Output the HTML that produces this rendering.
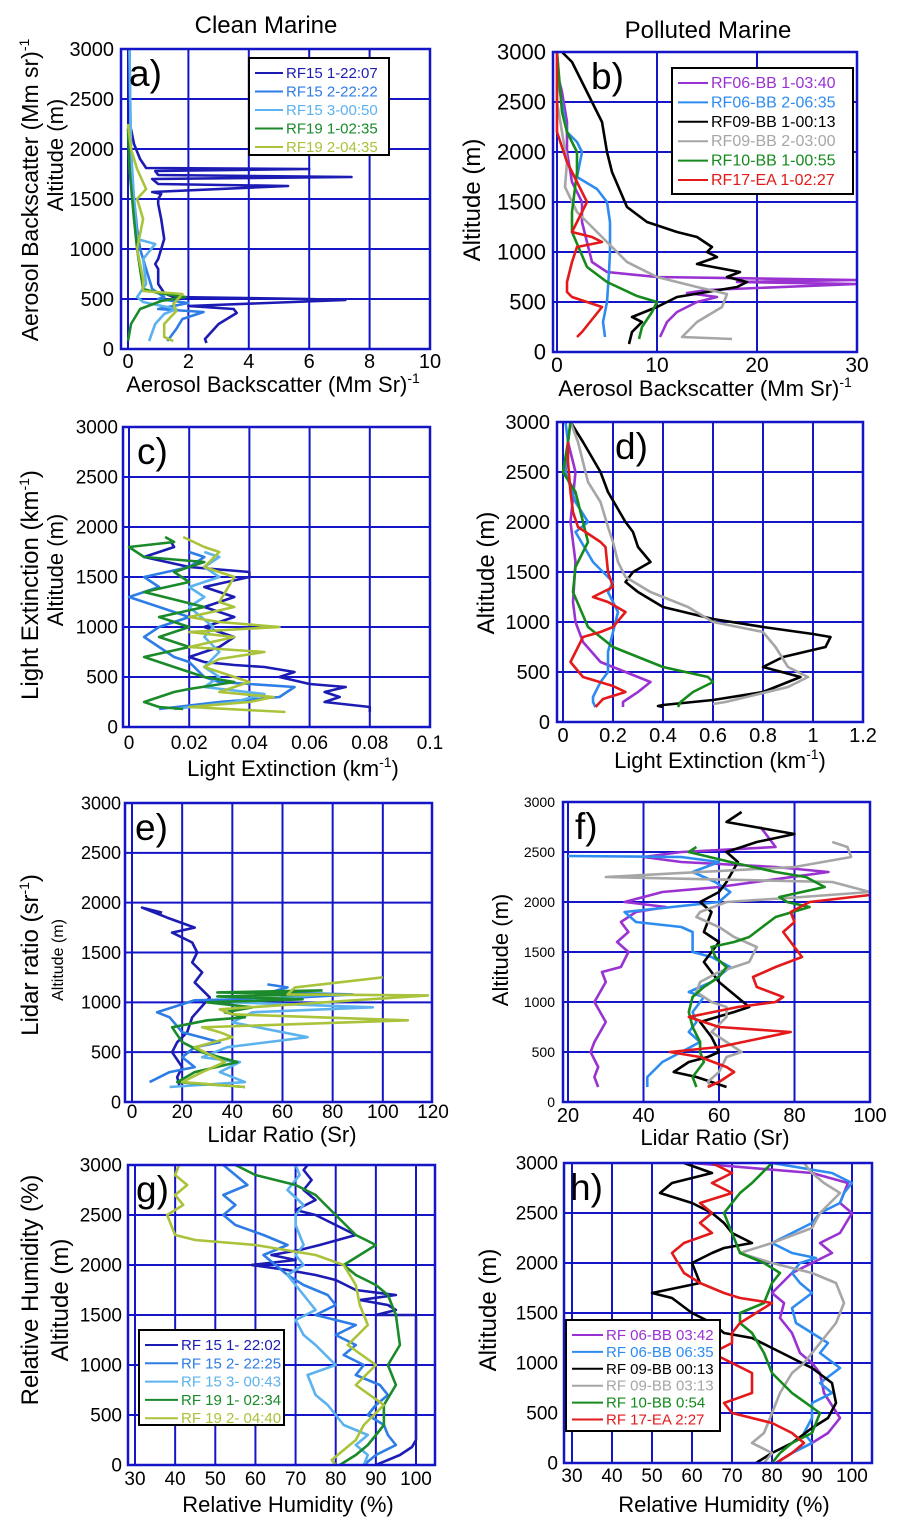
<!DOCTYPE html>
<html><head><meta charset="utf-8"><style>
html,body{margin:0;padding:0;background:#fff}
svg{display:block;font-family:"Liberation Sans",sans-serif}
</style></head><body>
<svg id="fig" width="901" height="1530" viewBox="0 0 901 1530" xmlns="http://www.w3.org/2000/svg">
<text x="266" y="33" font-size="24" text-anchor="middle">Clean Marine</text>
<text x="708" y="38" font-size="24" text-anchor="middle">Polluted Marine</text>
</svg>
<script>
// ---------- Data ----------
// Panel a: aerosol backscatter (Mm sr)^-1, clean marine
const a1x=[2.6,2.55,3.0,3.6,3.5,2.0,7.2,6.0,1.5,1.2,1.0,1.0,0.9,1.0,1.2,1.1,1.0,1.0,1.1,0.8,5.3,1.0,0.8,7.4,1.0,0.9,6.0,0.6,0.4,0.2,0.1];
const a1y=[60,100,250,360,400,430,490,500,520,560,650,800,850,900,1100,1300,1450,1500,1550,1570,1630,1650,1700,1720,1740,1780,1800,1810,1900,2050,2200];
const a2x=[1.3,1.6,1.8,2.5,1.0,2.0,1.0,1.2,0.8,0.6,0.4,0.3,0.1,0.05];
const a2y=[80,200,300,370,400,460,500,520,600,800,1000,1200,1800,3000];
const a3x=[0.7,0.9,1.2,1.6,0.5,0.3,0.6,0.5,0.9,0.3,0.2,0.1,0.05];
const a3y=[80,250,350,400,470,520,650,900,1050,1100,1500,2000,3000];
const a4x=[0.0,0.1,0.4,1.1,1.9,1.0,0.5,0.4,0.3,0.2,0.05,0.0];
const a4y=[80,250,400,480,520,560,600,800,1000,1300,1800,2200];
const a5x=[1.5,1.2,1.2,1.6,1.5,1.8,0.5,0.5,0.3,0.5,0.3,0.6,0.3,0.1,0.0];
const a5y=[80,120,250,380,450,550,580,700,1000,1300,1500,1600,1800,2000,2250];
// Panel b: aerosol backscatter, polluted marine
const b1x=[10.3,11,12,14,16,13,15,30,18,30,10,5,3.5,3,2.5,2.5,1.5,1,1,0.5,0];
const b1y=[150,300,400,500,550,590,620,680,700,720,750,800,900,1100,1300,1500,1700,2000,2300,2600,2800];
const b2x=[4.8,4.6,5,5.2,5.3,5.3,5,4,2,2.5,2,1,0.3,0];
const b2y=[150,300,500,800,1000,1300,1500,1630,1750,2000,2100,2200,2600,3000];
const b3x=[7.2,7.5,8.5,7.5,10,12,15,18,19,17,18.3,14,16,15,15.5,14,12,9,7,5.5,5,4.5,3,1.5,0.5];
const b3y=[80,200,300,350,450,550,600,650,700,750,800,880,950,1000,1050,1150,1200,1300,1450,1800,2000,2300,2600,2900,3000];
const b4x=[17.5,12.5,13,14,16.5,17,14,10,7,5,3,2,0.8,1,0.5,0,0];
const b4y=[130,150,200,300,450,580,650,750,900,1100,1300,1400,1650,1900,2200,2500,3000];
const b5x=[8.2,8.5,9.5,10,8,5,3,1.5,1.5,2,2,1,0.5,0];
const b5y=[130,250,400,500,560,700,850,1200,1400,1800,2000,2200,2400,3000];
const b6x=[2.0,2.5,4.5,3,1.5,1,1,1.5,2,4.5,3.5,1.5,2,3,2,1,0,0];
const b6y=[150,200,450,500,550,600,700,900,1050,1100,1150,1200,1300,1500,1700,1900,2200,3000];
// Panel c: light extinction (km^-1), clean marine
const c1x=[0.080,0.080,0.065,0.070,0.065,0.072,0.060,0.050,0.055,0.045,0.035,0.025,0.020,0.030,0.035,0.025,0.035,0.025,0.035,0.025,0.040,0.040,0.020,0.005,0.010,0.015,0.014];
const c1y=[150,200,250,300,350,400,430,500,550,600,620,650,700,800,900,1000,1100,1200,1300,1400,1500,1550,1600,1700,1750,1800,1850];
const c2x=[0.010,0.030,0.050,0.055,0.040,0.030,0.025,0.020,0.015,0.010,0.005,0.010,0.020,0.010,0.000,0.010,0.005,0.020,0.025,0.020];
const c2y=[180,250,300,400,430,450,500,650,700,800,900,1000,1100,1200,1300,1400,1500,1600,1700,1750];
const c3x=[0.015,0.035,0.045,0.025,0.030,0.025,0.030,0.025,0.028,0.020,0.025,0.020,0.030,0.025,0.030,0.025];
const c3y=[180,250,330,400,500,600,750,900,1000,1200,1300,1400,1500,1600,1700,1750];
const c4x=[0.018,0.010,0.005,0.015,0.020,0.035,0.025,0.015,0.005,0.020,0.010,0.020,0.010,0.025,0.005,0.020,0.015,0.025,0.005,0.000,0.015,0.012];
const c4y=[180,200,250,350,380,450,500,600,700,800,900,1000,1100,1200,1350,1450,1550,1650,1700,1800,1850,1900];
const c5x=[0.052,0.020,0.040,0.048,0.030,0.040,0.025,0.030,0.045,0.020,0.035,0.020,0.050,0.030,0.020,0.035,0.030,0.035,0.025,0.030,0.025,0.018];
const c5y=[150,200,250,300,350,450,600,680,750,800,900,950,1000,1050,1100,1200,1250,1500,1600,1750,1800,1900];
// Panel d: light extinction, polluted marine
const d1x=[0.24,0.24,0.30,0.35,0.30,0.15,0.08,0.05,0.04,0.05,0.03,0.05,0.02,0.03];
const d1y=[150,200,300,400,450,600,800,1000,1200,1600,2000,2500,2800,3000];
const d2x=[0.13,0.12,0.12,0.15,0.18,0.18,0.22,0.18,0.20,0.12,0.05,0.10,0.05,0.01,0.02,0.01];
const d2y=[150,200,250,400,500,700,1100,1300,1400,1600,1900,2000,2200,2500,2800,3000];
const d3x=[0.40,0.38,0.40,0.60,0.80,0.95,0.80,0.88,1.05,1.07,1.0,0.80,0.60,0.40,0.30,0.25,0.28,0.35,0.30,0.28,0.25,0.18,0.15,0.08,0.03];
const d3y=[150,160,170,220,300,450,550,650,750,850,880,950,1030,1150,1300,1400,1500,1600,1750,1900,2000,2300,2500,2800,3000];
const d4x=[0.60,0.65,0.90,0.98,0.90,0.85,0.80,0.60,0.50,0.35,0.25,0.22,0.20,0.18,0.15,0.10,0.06,0.03];
const d4y=[180,200,350,450,550,750,900,1000,1150,1300,1450,1600,1800,1950,2200,2400,2800,3000];
const d5x=[0.46,0.47,0.52,0.60,0.58,0.40,0.20,0.10,0.04,0.05,0.10,0.08,0.05,0.00,0.02,0.03];
const d5y=[150,200,300,400,450,550,750,950,1300,1550,1800,2000,2300,2500,2800,3000];
const d6x=[0.13,0.16,0.25,0.20,0.08,0.03,0.05,0.08,0.15,0.20,0.25,0.18,0.12,0.20,0.18,0.17,0.15,0.06,0.04,0.03,0.02,0.02];
const d6y=[150,230,300,360,450,600,700,850,900,950,1100,1200,1250,1350,1500,1750,1800,1950,2100,2300,2600,2800];
// Panel e: lidar ratio (sr), clean marine
const e1x=[19,18,20,16,18,22,24,31,25,28,24,26,24,16,25,14,4,12];
const e1y=[150,250,350,500,600,700,850,1050,1200,1300,1400,1500,1600,1700,1750,1850,1950,1900];
const e2x=[7,15,25,20,25,35,20,15,10,25,60,88,55,62,54];
const e2y=[200,300,350,450,550,600,700,850,900,1020,1040,1080,1100,1150,1180];
const e3x=[15,45,35,43,28,38,70,40,48,96,40,62,75];
const e3y=[150,200,300,400,450,550,650,800,900,950,1000,1050,1080];
const e4x=[45,18,25,42,28,20,16,30,45,37,48,30,68,34,77,34,76];
const e4y=[150,200,300,400,500,600,750,820,850,900,950,1000,1030,1060,1080,1100,1120];
const e5x=[45,20,28,37,25,40,35,28,110,40,35,118,62,65,100];
const e5y=[150,200,300,400,550,650,700,750,820,880,930,1070,1080,1150,1250];
// Panel f: lidar ratio, polluted marine
const f1x=[28,27,28,26,27,30,27,30,29,34,36,33,36,34,38,46,35,45,60,89,75,50,40,50,75,73,71];
const f1y=[150,250,350,500,600,800,1000,1200,1300,1350,1500,1600,1700,1800,1900,1950,2000,2100,2150,2300,2350,2400,2450,2500,2550,2650,2750];
const f2x=[41,41,45,50,55,52,54,53,56,52,58,63,58,53,53,50,38,35,60,63,59,53,60,50,20];
const f2y=[150,250,400,500,600,700,800,900,1050,1100,1200,1350,1450,1500,1700,1750,1800,1900,2000,2100,2200,2300,2400,2450,2460];
const f3x=[62,58,54,48,52,57,60,58,55,64,68,60,56,58,60,56,58,55,60,62,65,62,70,80,62,66];
const f3y=[150,200,250,300,400,450,500,650,800,900,950,1200,1400,1500,1600,1700,1900,2000,2100,2200,2400,2500,2600,2680,2800,2900];
const f4x=[58,57,60,62,66,58,62,62,58,54,55,60,68,70,64,60,54,55,62,82,100,90,30,80,95,94,90];
const f4y=[150,200,300,450,500,700,850,950,1000,1100,1200,1300,1400,1550,1650,1750,1850,1900,2000,2050,2100,2200,2250,2350,2450,2550,2600];
const f5x=[54,53,56,55,55,53,52,53,56,60,62,59,58,64,68,75,84,78,76,88,83,75,63,52,54];
const f5y=[150,250,400,500,600,750,900,1050,1150,1250,1350,1450,1550,1600,1650,1850,1950,2000,2050,2150,2250,2300,2400,2500,2550];
const f6x=[57,60,64,62,55,47,60,79,60,52,65,75,77,70,69,75,82,79,77,80,79,84,100];
const f6y=[150,200,300,350,450,500,550,700,750,850,950,1000,1050,1150,1250,1350,1450,1600,1700,1800,1900,2000,2070];
// Panel g: relative humidity (%), clean marine
const g1x=[90,96,99,100,100,100,100,90,95,93,86,95,85,80,75,68,59,70,64,71,76,85,80,75,70,75,72,74,72,73];
const g1y=[0,100,180,250,600,1000,1500,1500,1550,1600,1650,1700,1750,1850,1900,1950,2000,2050,2100,2150,2200,2300,2400,2500,2550,2650,2750,2850,2950,3000];
const g2x=[87,90,95,93,92,88,90,93,91,85,87,82,85,80,85,75,80,78,72,68,65,62,68,62,55,52,55,52,58,55,52];
const g2y=[0,100,200,300,400,500,600,700,800,900,1000,1100,1200,1300,1400,1500,1600,1700,1800,1900,2000,2100,2200,2300,2400,2500,2600,2700,2800,2900,3000];
const g3x=[87,88,85,88,82,80,78,75,73,80,75,72,70,75,72,70,68,72,70,72,70,70,72,68,71,70];
const g3y=[0,100,200,300,400,500,600,700,900,1000,1200,1300,1450,1550,1700,1800,1900,2000,2100,2200,2400,2500,2600,2750,2900,3000];
const g4x=[81,85,88,90,92,92,95,93,96,95,93,90,85,82,90,85,80,75,70,60,55];
const g4y=[0,100,200,300,400,600,800,1000,1200,1500,1700,1800,1900,2000,2200,2300,2500,2700,2800,2900,3000];
const g5x=[80,79,82,85,87,92,85,90,83,88,86,85,82,75,60,45,40,38,42,40,43,40,41];
const g5y=[0,50,150,250,400,600,800,1000,1200,1400,1600,1800,2000,2100,2200,2250,2300,2500,2600,2700,2800,2900,3000];
// Panel h: relative humidity, polluted marine
const h1x=[81,85,90,94,97,93,92,90,87,85,82,83,80,85,90,95,92,97,100,97,99,90,60];
const h1y=[0,100,200,300,450,700,900,1000,1100,1300,1450,1600,1700,1900,2000,2100,2200,2300,2500,2600,2800,2900,3000];
const h2x=[81,85,90,88,90,90,95,92,97,92,94,90,86,85,90,87,85,87,91,85,80,85,90,92,97,98,100,95,80];
const h2y=[0,100,200,300,450,600,700,800,950,1100,1200,1300,1400,1550,1700,1800,1900,2000,2050,2100,2200,2300,2400,2500,2600,2700,2800,2900,3000];
const h3x=[76,80,85,90,94,96,95,90,85,80,75,68,65,60,55,50,62,60,65,68,75,70,68,65,60,52,55,65,58];
const h3y=[0,100,200,350,450,600,800,950,1050,1150,1250,1300,1400,1500,1650,1700,1800,2000,2100,2150,2200,2300,2400,2500,2600,2700,2800,2900,3000];
const h4x=[78,80,75,78,80,82,85,88,92,96,98,96,90,80,72,80,90,92,97,93,90,88];
const h4y=[0,100,200,300,500,700,900,1000,1200,1400,1600,1800,1900,2000,2100,2200,2350,2500,2700,2800,2900,3000];
const h5x=[80,82,85,90,92,85,80,78,75,72,72,78,80,82,78,72,70,68,72,75,80];
const h5y=[0,100,200,300,500,700,900,1100,1300,1400,1500,1600,1800,1900,2000,2100,2300,2500,2700,2800,3000];
const h6x=[81,85,88,85,80,70,68,75,75,70,65,70,70,72,80,72,68,62,58,55,58,65,62,65,62,70,65,70,65];
const h6y=[0,100,200,300,400,500,600,700,900,1000,1100,1200,1300,1400,1600,1650,1700,1800,1900,2100,2200,2300,2400,2500,2600,2700,2800,2900,3000];

// Tick label arrays
const altTicks=[0,500,1000,1500,2000,2500,3000];
const aTicks=[0,2,4,6,8,10];
const bTicks=[0,10,20,30];
const cTicks=[0,0.02,0.04,0.06,0.08,0.1];
const dTicks=[0,0.2,0.4,0.6,0.8,1,1.2];
const eTicks=[0,20,40,60,80,100,120];
const fTicks=[20,40,60,80,100];
const ghTicks=[30,40,50,60,70,80,90,100];

// Legend labels
const legA=["RF15 1-22:07","RF15 2-22:22","RF15 3-00:50","RF19 1-02:35","RF19 2-04:35"];
const legB=["RF06-BB 1-03:40","RF06-BB 2-06:35","RF09-BB 1-00:13","RF09-BB 2-03:00","RF10-BB 1-00:55","RF17-EA 1-02:27"];
const legG=["RF 15 1- 22:02","RF 15 2- 22:25","RF 15 3- 00:43","RF 19 1- 02:34","RF 19 2- 04:40"];
const legH=["RF 06-BB 03:42","RF 06-BB 06:35","RF 09-BB 00:13","RF 09-BB 03:13","RF 10-BB  0:54","RF 17-EA  2:27"];

const cleanCols=["#1c1cb4","#2e7de6","#5cb2ee","#1a8a2a","#a9c33a"];
const pollCols=["#9a32d2","#2e8cf0","#000000","#a6a6a6","#168a1c","#e3191b"];

const NS="http://www.w3.org/2000/svg";
const svg=document.getElementById('fig');
const GRID="#1515c8";
function mk(tag,at,parent){const e=document.createElementNS(NS,tag);for(const k in at)e.setAttribute(k,at[k]);(parent||svg).appendChild(e);return e;}
function fmt(v){return String(+v.toFixed(2));}

function panel(id,P){
  const g=mk('g',{});
  
  
  const X=v=>P.px0+(v-P.v0)*(P.px1-P.px0)/(P.v1-P.v0);
  const Y=a=>P.fy1-a*(P.fy1-P.fy0)/3000;
  P.ticks.forEach(t=>{const x=X(t); if(x>P.fx0+3&&x<P.fx1-3){const l=mk('line',{x1:x,x2:x,y1:P.fy0,y2:P.fy1,stroke:GRID,'stroke-width':2},g);
    
    }});
  altTicks.forEach(a=>{const y=Y(a); if(y>P.fy0+3&&y<P.fy1-3){const l=mk('line',{x1:P.fx0,x2:P.fx1,y1:y,y2:y,stroke:GRID,'stroke-width':2},g);
    
    }});
  P.series.forEach((s,i)=>{
    const d=s[0].map((v,j)=>(j?'L':'M')+X(v).toFixed(1)+' '+Y(s[1][j]).toFixed(1)).join(' ');
    const p=mk('path',{d:d,fill:'none',stroke:P.cols[i],'stroke-width':2.6,'stroke-linejoin':'round'},g);
    
    
  });
  const fr=mk('rect',{x:P.fx0,y:P.fy0,width:P.fx1-P.fx0,height:P.fy1-P.fy0,fill:'none',stroke:GRID,'stroke-width':2.5},g);
  
  
  P.ticks.forEach(t=>{const tx=mk('text',{x:X(t),y:P.xly,'font-size':P.xfs,'text-anchor':'middle'},g);tx.textContent=fmt(t);
    
    });
  altTicks.forEach(a=>{const tx=mk('text',{x:P.ylx,y:Y(a)+P.yfs*0.35,'font-size':P.yfs,'text-anchor':'end'},g);tx.textContent=a;
    
    });
  const lt=mk('text',{x:P.fx0+P.lx,y:P.fy0+37,'font-size':37},g);lt.textContent=id+')';
  
  
  const xt=mk('text',{x:P.xtx,y:P.xty,'font-size':22,'text-anchor':'middle'},g);
  xt.innerHTML=P.xtitle;
  
  
  P.ytitles.forEach(yt=>{const t=mk('text',{transform:`translate(${yt[0]},${yt[1]}) rotate(-90)`,'font-size':yt[3],'text-anchor':'middle'},g);t.innerHTML=yt[2];
    
    });
  if(P.leg){const L=P.leg;
    const box=mk('rect',{x:L.x,y:L.y,width:L.w,height:L.h,fill:'#fff',stroke:'#000','stroke-width':2},g);
    
    
    L.labels.forEach((lab,i)=>{const yy=L.y0+i*L.dy;
      const ln=mk('line',{x1:L.x+6,x2:L.x+6+L.ll,y1:yy,y2:yy,stroke:P.cols[i],'stroke-width':2},g);
      
      
      const tx=mk('text',{x:L.x+9+L.ll,y:yy+5,'font-size':L.fs,fill:P.cols[i]},g);tx.textContent=lab;
      
      });
  }
}
const SUP='<tspan dy="-9" font-size="14">-1</tspan>';
panel('a',{fx0:121,fx1:430,fy0:49,fy1:349,v0:0,v1:10,px0:128,px1:430,ticks:aTicks,cols:cleanCols,lx:8,
  series:[[a1x,a1y],[a2x,a2y],[a3x,a3y],[a4x,a4y],[a5x,a5y]],xly:368,xfs:20,ylx:114,yfs:20,
  xtx:273,xty:392,xtitle:'Aerosol Backscatter (Mm Sr)'+SUP,
  ytitles:[[38,190,'Aerosol Backscatter (Mm sr)'+SUP,23],[63,155,'Altitude (m)',22]],
  leg:{x:249,y:58,w:140,h:97,y0:73,dy:18.5,ll:28,fs:15,labels:legA}});
panel('b',{fx0:553,fx1:857,fy0:52,fy1:352,v0:0,v1:30,px0:557,px1:857,ticks:bTicks,cols:pollCols,lx:38,
  series:[[b1x,b1y],[b2x,b2y],[b3x,b3y],[b4x,b4y],[b5x,b5y],[b6x,b6y]],xly:372,xfs:21,ylx:546,yfs:22,
  xtx:705,xty:396,xtitle:'Aerosol Backscatter (Mm Sr)'+SUP,
  ytitles:[[480,200,'Altitude (m)',24]],
  leg:{x:672,y:68,w:181,h:126,y0:83,dy:19.4,ll:30,fs:16,labels:legB}});
panel('c',{fx0:123,fx1:430,fy0:427,fy1:727,v0:0,v1:0.1,px0:129,px1:430,ticks:cTicks,cols:cleanCols,lx:14,
  series:[[c1x,c1y],[c2x,c2y],[c3x,c3y],[c4x,c4y],[c5x,c5y]],xly:749,xfs:19,ylx:118,yfs:19,
  xtx:293,xty:776,xtitle:'Light Extinction (km'+SUP+'<tspan dy="9">)</tspan>',
  ytitles:[[38,585,'Light Extinction (km'+SUP+'<tspan dy="9">)</tspan>',24],[63,570,'Altitude (m)',22]]});
panel('d',{fx0:557,fx1:863,fy0:422,fy1:722,v0:0,v1:1.2,px0:563,px1:863,ticks:dTicks,cols:pollCols,lx:58,
  series:[[d1x,d1y],[d2x,d2y],[d3x,d3y],[d4x,d4y],[d5x,d5y],[d6x,d6y]],xly:742,xfs:20,ylx:550,yfs:20,
  xtx:720,xty:768,xtitle:'Light Extinction (km'+SUP+'<tspan dy="9">)</tspan>',
  ytitles:[[494,573,'Altitude (m)',24]]});
panel('e',{fx0:125,fx1:432,fy0:803,fy1:1102,v0:0,v1:120,px0:132,px1:433,ticks:eTicks,cols:cleanCols,lx:10,
  series:[[e1x,e1y],[e2x,e2y],[e3x,e3y],[e4x,e4y],[e5x,e5y]],xly:1118,xfs:19,ylx:121,yfs:18,
  xtx:282,xty:1142,xtitle:'Lidar Ratio (Sr)',
  ytitles:[[38,955,'Lidar ratio (sr'+SUP+'<tspan dy="9">)</tspan>',24],[63,960,'Altitude (m)',16]]});
panel('f',{fx0:563,fx1:870,fy0:802,fy1:1102,v0:20,v1:100,px0:568,px1:870,ticks:fTicks,cols:pollCols,lx:12,
  series:[[f1x,f1y],[f2x,f2y],[f3x,f3y],[f4x,f4y],[f5x,f5y],[f6x,f6y]],xly:1122,xfs:20,ylx:555,yfs:14,
  xtx:715,xty:1145,xtitle:'Lidar Ratio (Sr)',
  ytitles:[[508,950,'Altitude (m)',22]]});
panel('g',{fx0:128,fx1:435,fy0:1165,fy1:1465,v0:30,v1:100,px0:135,px1:416,ticks:ghTicks,cols:cleanCols,lx:8,
  series:[[g1x,g1y],[g2x,g2y],[g3x,g3y],[g4x,g4y],[g5x,g5y]],xly:1485,xfs:19,ylx:122,yfs:19,
  xtx:288,xty:1512,xtitle:'Relative Humidity (%)',
  ytitles:[[38,1290,'Relative Humidity (%)',24],[68,1300,'Altitude (m)',24]],
  leg:{x:139,y:1330,w:145,h:95,y0:1345,dy:18.3,ll:33,fs:15,labels:legG}});
panel('h',{fx0:564,fx1:872,fy0:1163,fy1:1463,v0:30,v1:100,px0:572,px1:852,ticks:ghTicks,cols:pollCols,lx:6,
  series:[[h1x,h1y],[h2x,h2y],[h3x,h3y],[h4x,h4y],[h5x,h5y],[h6x,h6y]],xly:1482,xfs:19,ylx:558,yfs:19,
  xtx:724,xty:1512,xtitle:'Relative Humidity (%)',
  ytitles:[[496,1310,'Altitude (m)',24]],
  leg:{x:566,y:1320,w:154,h:111,y0:1335,dy:16.9,ll:31,fs:15,labels:legH}});
</script>
</body></html>
